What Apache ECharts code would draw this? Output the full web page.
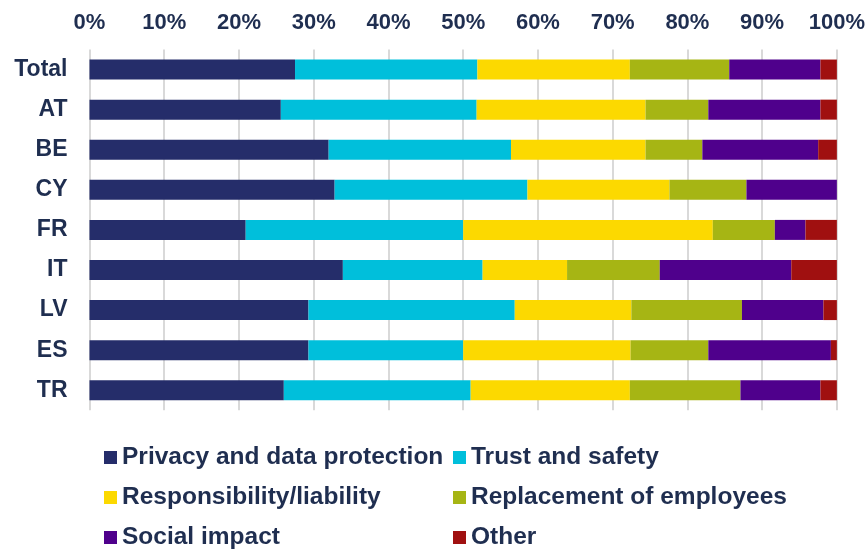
<!DOCTYPE html>
<html>
<head>
<meta charset="utf-8">
<script src="https://cdn.jsdelivr.net/npm/echarts@6/dist/echarts.min.js"></script>
<style>
html,body{margin:0;padding:0;background:#fff;}
#chart{width:868px;height:551px;}
</style>
</head>
<body>
<div id="chart"></div>
<script>
var categories = ['Total', 'AT', 'BE', 'CY', 'FR', 'IT', 'LV', 'ES', 'TR'];
var seriesNames = ['Privacy and data protection', 'Trust and safety', 'Responsibility/liability', 'Replacement of employees', 'Social impact', 'Other'];
var privacy     = [27.5, 25.6, 32.0, 32.8, 20.9, 33.9, 29.3, 29.3, 26.0];
var trust       = [24.4, 26.2, 24.4, 25.8, 29.1, 18.7, 27.6, 20.7, 25.0];
var responsib   = [20.4, 22.6, 18.0, 19.0, 33.4, 11.3, 15.6, 22.4, 21.3];
var replacement = [13.3,  8.4,  7.6, 10.3,  8.3, 12.4, 14.8, 10.4, 14.8];
var social      = [12.2, 15.0, 15.5, 12.1,  4.1, 17.6, 10.9, 16.4, 10.7];
var other       = [ 2.2,  2.2,  2.5,  0.0,  4.2,  6.1,  1.8,  0.8,  2.2];
var tickValues  = [0, 10, 20, 30, 40, 50, 60, 70, 80, 90, 100];

var colors = ['#252D6A', '#00BFDB', '#FCD900', '#A6B514', '#4F008C', '#A01010'];
var values = [privacy, trust, responsib, replacement, social, other];
var textColor = '#1F2E50';
var fontFam = '"Liberation Sans", Arial, sans-serif';

var series = seriesNames.map(function (name, i) {
  return {
    name: name,
    type: 'bar',
    stack: 'total',
    barWidth: 20,
    itemStyle: { color: colors[i] },
    emphasis: { disabled: true },
    data: values[i]
  };
});

var legendPos = [
  { left: 104, top: 445 }, { left: 453, top: 445 },
  { left: 104, top: 485 }, { left: 453, top: 485 },
  { left: 104, top: 525 }, { left: 453, top: 525 }
];
var legends = seriesNames.map(function (name, i) {
  return {
    data: [name],
    left: legendPos[i].left,
    top: legendPos[i].top,
    padding: 0,
    icon: 'rect',
    itemWidth: 13,
    itemHeight: 13,
    selectedMode: false,
    textStyle: { color: textColor, fontSize: 24.5, fontWeight: 'bold', fontFamily: fontFam }
  };
});

var chart = echarts.init(document.getElementById('chart'), null, { renderer: 'canvas' });
chart.setOption({
  animation: false,
  backgroundColor: '#ffffff',
  grid: { left: 89.5, right: 30.5, top: 49.5, bottom: 140.7, containLabel: false },
  legend: legends,
  xAxis: {
    type: 'value',
    position: 'top',
    min: tickValues[0],
    max: tickValues[tickValues.length - 1],
    interval: tickValues[1] - tickValues[0],
    axisLine: { show: false },
    axisTick: { show: false },
    splitLine: { show: true, lineStyle: { color: '#D9D9D9', width: 2 } },
    axisLabel: {
      formatter: '{value}%',
      margin: 16,
      color: textColor,
      fontSize: 22,
      fontWeight: 'bold',
      fontFamily: fontFam
    }
  },
  yAxis: {
    type: 'category',
    inverse: true,
    data: categories,
    axisLine: { show: false },
    axisTick: { show: false },
    axisLabel: {
      margin: 22,
      color: textColor,
      fontSize: 23,
      fontWeight: 'bold',
      fontFamily: fontFam
    }
  },
  series: series
});
</script>
</body>
</html>
